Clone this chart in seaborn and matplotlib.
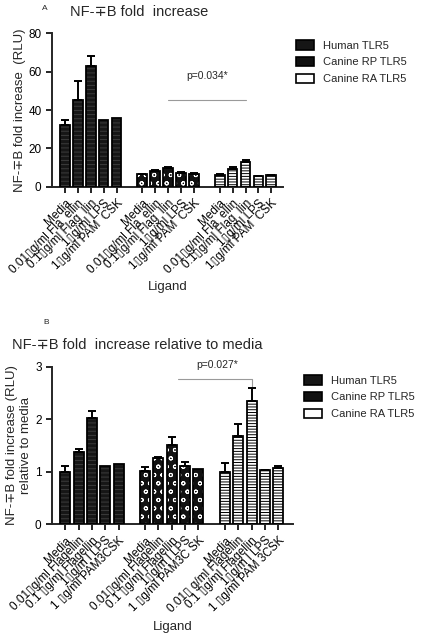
import matplotlib
matplotlib.use('Agg')
import matplotlib.pyplot as plt
import pandas as pd
import seaborn as sns
import numpy as np
from matplotlib.patches import Patch

# Data
GROUPS = ['Human TLR5', 'Canine RP TLR5', 'Canine RA TLR5']

# panel A: NF-kB fold increase (RLU)
a_human = [32, 45, 63, 35, 36]
a_human_err = [3, 10, 5, 0, 0]
a_rp = [6.5, 8.3, 10, 7.3, 6.8]
a_rp_err = [0.4, 0.6, 0.6, 0.3, 0.2]
a_ra = [6, 9.5, 13, 5.5, 6]
a_ra_err = [0.5, 0.8, 0.8, 0.2, 0.3]
a_labels = [
    ['Media', '0.01\u25afg/ml Fla  ellin', '0.1\u25afg/ml Flag  llin', '1\u25afg/ml LPS', '1\u25afg/ml PAM  CSK'],
    ['Media', '0.01\u25afg/ml Fla  ellin', '0.1\u25afg/ml Flag  llin', '1\u25afg/ml LPS', '1\u25afg/ml PAM  CSK'],
    ['Media', '0.01\u25afg/ml Fla  ellin', '0.1\u25afg/ml Flag  llin', '1\u25afg/ml LPS', '1\u25afg/ml PAM  CSK'],
]

# panel B: fold increase relative to media
b_human = [1.0, 1.38, 2.02, 1.11, 1.14]
b_human_err = [0.1, 0.06, 0.14, 0, 0]
b_rp = [1.02, 1.26, 1.51, 1.11, 1.06]
b_rp_err = [0.06, 0.02, 0.15, 0.07, 0]
b_ra = [1.0, 1.68, 2.35, 1.03, 1.07]
b_ra_err = [0.17, 0.23, 0.24, 0.01, 0.04]
b_labels = [
    ['Media', '0.01\u25afg/ml Flagellin', '0.1 \u25afg/ml Flagellin', '1\u25afg/m l LPS', '1 \u25afg/ml PAM3CSK'],
    ['Media', '0.01\u25afg/ml Flagellin', '0.1 \u25afg/ml Flagellin', '1\u25afg/m l LPS', '1 \u25afg/ml PAM3C SK'],
    ['Media', '0.01\u25af g/ml Flagellin', '0.1 \u25afg/ml Flagellin', '1\u25afg/m l LPS', '1 \u25afg/ml PAM 3CSK'],
]

STYLE = {
    'Human TLR5': dict(face='#161616', hatch='----', hcol='#3c3c3c'),
    'Canine RP TLR5': dict(face='#111111', hatch='oo', hcol='white'),
    'Canine RA TLR5': dict(face='white', hatch='------', hcol='black'),
}

sns.set_style('ticks')
plt.rcParams['font.family'] = ['Liberation Sans', 'DejaVu Sans']
plt.rcParams['hatch.linewidth'] = 0.7


def draw_panel(ax, series, errs, labels):
    '''Grouped bars with gaps between groups, one-sided error bars.'''
    rows = []
    order = []
    for gi, (g, vals) in enumerate(zip(GROUPS, series)):
        for i, v in enumerate(vals):
            rows.append({'id': f'{gi}_{i}', 'value': v, 'group': g})
            order.append(f'{gi}_{i}')
        if gi < len(GROUPS) - 1:
            order.append(f'gap{gi}')
    df = pd.DataFrame(rows)
    sns.barplot(data=df, x='id', y='value', hue='group', order=order,
                dodge=False, width=0.75, legend=False, ax=ax,
                palette={g: STYLE[g]['face'] for g in GROUPS})

    pos = {k: i for i, k in enumerate(order)}
    xs = np.array([pos[r['id']] for r in rows])
    grp = [r['group'] for r in rows]
    for p in ax.patches:
        cx = p.get_x() + p.get_width() / 2
        j = int(np.argmin(np.abs(xs - cx)))
        st = STYLE[grp[j]]
        p.set_hatch(st['hatch'])
        p.set_edgecolor(st['hcol'])
        p.set_linewidth(0)
    # crisp black outlines
    vals_all = df['value'].to_numpy()
    ax.bar(xs, vals_all, width=0.75, fill=False, edgecolor='black', linewidth=1.3, zorder=3)

    err_all = np.concatenate(errs)
    m = err_all > 0
    ax.errorbar(xs[m], vals_all[m], yerr=[np.zeros(m.sum()), err_all[m]], fmt='none',
                ecolor='black', elinewidth=1.4, capsize=3, capthick=1.4, zorder=4)

    ax.set_xticks(xs)
    ax.set_xticklabels(sum(labels, []), rotation=45, ha='right', rotation_mode='anchor', fontsize=7.5)
    ax.set_xlabel('Ligand', fontsize=9.5)
    sns.despine(ax=ax)
    for s in ['left', 'bottom']:
        ax.spines[s].set_linewidth(1.4)
    ax.tick_params(width=1.2, length=4, labelsize=8.5, colors='black')
    return xs


fig = plt.figure(figsize=(4.3, 6.4), dpi=100)

# Panel A
ax1 = fig.add_axes([0.121, 0.708, 0.537, 0.240])
draw_panel(ax1, [a_human, a_rp, a_ra], [a_human_err, a_rp_err, a_ra_err], a_labels)
ax1.set_xlim(-1.0, 16.9)
ax1.set_ylim(0, 80)
ax1.set_yticks([0, 20, 40, 60, 80])
ax1.set_ylabel('NF-\u2213B fold increase  (RLU)', fontsize=9.5, labelpad=2)
ax1.xaxis.labelpad = 4
ax1.plot([8, 14], [45, 45], color='#9a9a9a', lw=0.8)
ax1.text(11, 58, 'p=0.034*', ha='center', va='center', fontsize=7.5)

# Panel B
ax2 = fig.add_axes([0.121, 0.181, 0.560, 0.246])
draw_panel(ax2, [b_human, b_rp, b_ra], [b_human_err, b_rp_err, b_ra_err], b_labels)
ax2.set_xlim(-1.0, 17.1)
ax2.set_ylim(0, 3)
ax2.set_yticks([0, 1, 2, 3])
ax2.set_ylabel('NF-\u2213B fold increase (RLU)\nrelative to media', fontsize=9.5, labelpad=2)
ax2.xaxis.labelpad = 4
ax2.plot([8.5, 14, 14], [2.77, 2.77, 2.62], color='#9a9a9a', lw=0.8)
ax2.text(11.4, 3.04, 'p=0.027*', ha='center', va='center', fontsize=7.5)

# Titles and panel letters
fig.text(70 / 430, 1 - 12 / 640, 'NF-\u2213B fold  increase', fontsize=10.5, va='center', ha='left')
fig.text(42 / 430, 1 - 9 / 640, 'A', fontsize=6, va='center', ha='left')
fig.text(12 / 430, 1 - 345 / 640, 'NF-\u2213B fold  increase relative to media', fontsize=10.5, va='center', ha='left')
fig.text(43 / 430, 1 - 323 / 640, 'B', fontsize=6, va='center', ha='left')

# Legends
handles = [
    Patch(facecolor='#161616', edgecolor='black', linewidth=1.2),
    Patch(facecolor='#111111', edgecolor='black', linewidth=1.2),
    Patch(facecolor='white', edgecolor='black', hatch='===', linewidth=1.2),
]
for bbox in [(292 / 430, 1 - 36 / 640), (300 / 430, 1 - 371 / 640)]:
    fig.legend(handles, GROUPS, loc='upper left', bbox_to_anchor=bbox, frameon=False,
               fontsize=8, handlelength=1.6, handleheight=0.9, labelspacing=0.55,
               handletextpad=0.8, borderaxespad=0)

fig.savefig('out.png', dpi=100)
